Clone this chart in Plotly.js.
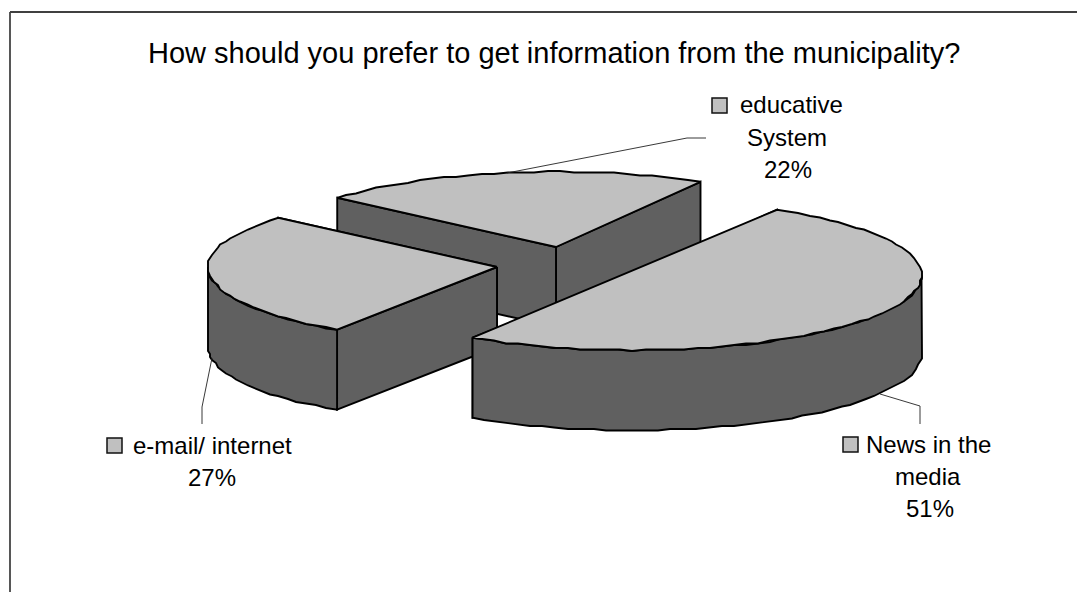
<!DOCTYPE html>
<html>
<head>
<meta charset="utf-8">
<script src="https://cdn.plot.ly/plotly-3.0.1.min.js"></script>
<style>html,body{margin:0;padding:0;background:#fff}#chart{width:1077px;height:592px}</style>
</head>
<body>
<div id="chart"></div>
<script>
const categories = ["educative System", "e-mail/ internet", "News in the media"];
const shares = [22, 27, 51];
const titleText = "How should you prefer to get information from the municipality?";

const topColor = "#C0C0C0", sideColor = "#606060", edge = "#000000";
const startAngle = 60, rx = 289, ry = 75.3, depth = 80;
const apexes = [[556, 247], [497, 267], [632.5, 275]];
const leaders = [
  [[507, 173], [687, 138], [706, 138]],
  [[212, 358], [202, 407], [202, 424]],
  [[880, 394], [920, 406], [920, 424]]
];
const labelLines = [
  [["educative", 791, 104], ["System", 787, 137]],
  [["e-mail/ internet", 212, 445]],
  [["News in the", 928, 444], ["media", 928, 476]]
];
const percentPos = [[788, 169], [212, 477], [930, 508]];
const keys = [[712, 98], [107, 438], [843, 437]];

const traces = [];
function poly(pts, fill) {
  traces.push({
    type: "scatter", mode: "lines", fill: "toself", fillcolor: fill,
    x: pts.map(p => p[0]), y: pts.map(p => p[1]),
    line: {color: edge, width: 1.9, shape: "linear"},
    hoverinfo: "skip", showlegend: false
  });
}
// the original's arcs are stepped from integer rounding
function arc(c, a0, a1, dy) {
  const pts = [], n = Math.max(2, Math.round(Math.abs(a1 - a0) / 2.6));
  for (let i = 0; i <= n; i++) {
    const t = (a0 + (a1 - a0) * i / n) * Math.PI / 180;
    let x = c[0] + rx * Math.cos(t), y = c[1] - ry * Math.sin(t) + dy;
    if (i > 0 && i < n) { x = Math.round(x / 2) * 2; y = Math.round(y / 1.5) * 1.5; }
    pts.push([x, y]);
  }
  return pts;
}
function point(c, a) {
  const t = a * Math.PI / 180;
  return [c[0] + rx * Math.cos(t), c[1] - ry * Math.sin(t)];
}
const total = shares.reduce((a, b) => a + b, 0);
let cum = startAngle;
shares.forEach((v, i) => {
  const a0 = cum, a1 = cum + v / total * 360;
  cum = a1;
  const c = apexes[i];
  [a0, a1].forEach(a => {
    const p = point(c, a);
    poly([c, p, [p[0], p[1] + depth], [c[0], c[1] + depth], c], sideColor);
  });
  const w0 = Math.max(a0, 180), w1 = Math.min(a1, 360);
  if (w1 > w0) {
    const upper = arc(c, w0, w1, 0), lower = arc(c, w0, w1, depth).reverse();
    poly(upper.concat(lower, [upper[0]]), sideColor);
  }
  const rim = arc(c, a0, a1, 0);
  // a slice of about half the pie has a straight chord, as in the original
  poly(v / total >= 0.5 ? rim.concat([rim[0]]) : [c].concat(rim, [c]), topColor);
});
leaders.forEach(l => traces.push({
  type: "scatter", mode: "lines",
  x: l.map(p => p[0]), y: l.map(p => p[1]),
  line: {color: "#222222", width: 0.9},
  hoverinfo: "skip", showlegend: false
}));

const fontFamily = "'Liberation Sans', Arial, sans-serif";
const annotations = [];
function label(text, x, y, size) {
  annotations.push({
    text, x, y, xref: "x", yref: "y", xanchor: "center", yanchor: "middle",
    showarrow: false, font: {family: fontFamily, size: size, color: "#000"}
  });
}
label(titleText, 554, 53, 29);
labelLines.forEach(ls => ls.forEach(l => label(l[0], l[1], l[2], 24)));
shares.forEach((v, i) => label(v + "%", percentPos[i][0], percentPos[i][1], 24));

const shapes = [
  {type: "line", xref: "x", yref: "y", x0: 10, y0: 12, x1: 1077, y1: 12, line: {color: "#000", width: 1.5}},
  {type: "line", xref: "x", yref: "y", x0: 10, y0: 12, x1: 10, y1: 592, line: {color: "#444", width: 1.8}}
];
keys.forEach(k => shapes.push({
  type: "rect", xref: "x", yref: "y", x0: k[0], y0: k[1], x1: k[0] + 15, y1: k[1] + 15,
  fillcolor: topColor, line: {color: "#111", width: 1.5}
}));

const layout = {
  width: 1077, height: 592,
  margin: {l: 0, r: 0, t: 0, b: 0},
  paper_bgcolor: "#fff", plot_bgcolor: "#fff",
  xaxis: {range: [0, 1077], visible: false, fixedrange: true},
  yaxis: {range: [592, 0], visible: false, fixedrange: true},
  showlegend: false, annotations, shapes
};
Plotly.newPlot("chart", traces, layout, {displayModeBar: false, staticPlot: true});
</script>
</body>
</html>
